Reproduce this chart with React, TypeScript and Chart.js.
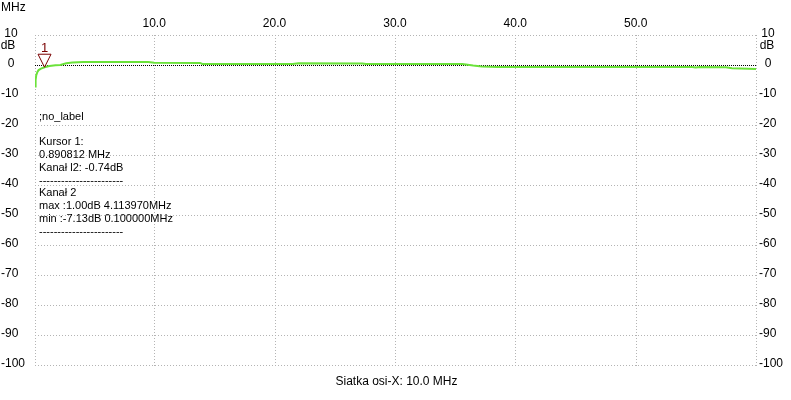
import React, { useEffect, useRef } from "react";
import { Chart, registerables } from "chart.js";

Chart.register(...registerables);

// ---- data ----
const freqMHz: number[] = [
  0.1, 0.15, 0.2, 0.3, 0.4, 0.6, 0.890812, 1.3, 1.8, 2.2, 2.7, 3.2, 4.11397, 6, 8, 9.5,
  10, 13.8, 14, 21.5, 22, 27.3, 27.6, 34.6, 35.6, 36.5, 37.2, 38.5, 54.7, 55, 55.3, 57.5,
  58, 60,
];
const gainDb: number[] = [
  -7.13, -5.0, -3.5, -2.3, -1.7, -1.2, -0.74, -0.35, -0.1, 0.0, 0.6, 0.85, 1.0, 0.98, 1.0, 0.98,
  0.75, 0.7, 0.35, 0.35, 0.55, 0.5, 0.3, 0.3, 0.3, -0.2, -0.5, -0.65, -0.65, -0.8, -0.65, -0.75,
  -1.1, -1.35,
];
const xGridTicks: number[] = [10, 20, 30, 40, 50];
const xTickLabels: string[] = ["10.0", "20.0", "30.0", "40.0", "50.0"];
const yTicks: number[] = [10, 0, -10, -20, -30, -40, -50, -60, -70, -80, -90, -100];
const cursorFreq = 0.890812;
const cursorDb = -0.74;
const cursorLabel = "1";
const infoLines: string[] = [
  ";no_label",
  "",
  "Kursor 1:",
  "0.890812 MHz",
  "Kanał l2: -0.74dB",
  "-----------------------",
  "Kanał 2",
  "max :1.00dB 4.113970MHz",
  "min :-7.13dB 0.100000MHz",
  "-----------------------",
];
const xUnit = "MHz";
const yUnit = "dB";
const bottomTitle = "Siatka osi-X: 10.0 MHz";
const xMin = 0.1;
const xMax = 60;
const yMin = -100;
const yMax = 10;

const FONT = "'Liberation Sans', Arial, sans-serif";

const overlayPlugin = {
  id: "overlay",
  beforeDatasetsDraw(chart: any) {
    const { ctx, chartArea, scales } = chart;
    const xs = scales.x;
    const ys = scales.y;
    ctx.save();
    ctx.lineWidth = 1;
    // vertical grid lines (incl. edges)
    ctx.strokeStyle = "#b4b4b4";
    ctx.setLineDash([1, 2]);
    const vx = [xMin, ...xGridTicks, xMax];
    for (const v of vx) {
      const px = Math.round(xs.getPixelForValue(v)) + 0.5;
      ctx.beginPath();
      ctx.moveTo(px, chartArea.top);
      ctx.lineTo(px, chartArea.bottom + 1);
      ctx.stroke();
    }
    for (const v of yTicks) {
      if (v === 0) continue;
      const py = Math.round(ys.getPixelForValue(v)) + 0.5;
      ctx.beginPath();
      ctx.moveTo(chartArea.left, py);
      ctx.lineTo(chartArea.right + 1, py);
      ctx.stroke();
    }
    // zero reference line
    ctx.strokeStyle = "#000000";
    ctx.setLineDash([1, 1]);
    const pz = Math.round(ys.getPixelForValue(0)) + 0.5;
    ctx.beginPath();
    ctx.moveTo(chartArea.left, pz);
    ctx.lineTo(chartArea.right + 1, pz);
    ctx.stroke();
    ctx.setLineDash([]);

    // axis labels
    ctx.fillStyle = "#000000";
    ctx.font = "12px " + FONT;
    ctx.textBaseline = "middle";
    for (const v of yTicks) {
      const py = ys.getPixelForValue(v) - 1.5;
      const s = String(v);
      if (v < 0) {
        ctx.textAlign = "left";
        ctx.fillText(s, 1, py);
        ctx.fillText(s, chartArea.right + 3, py);
      } else {
        ctx.textAlign = "center";
        ctx.fillText(s, 11, py);
        ctx.fillText(s, chartArea.right + 12, py);
      }
      if (v === yMax) {
        ctx.textAlign = "center";
        ctx.fillText(yUnit, 8, py + 12);
        ctx.fillText(yUnit, chartArea.right + 11, py + 12);
      }
    }
    ctx.textAlign = "center";
    xGridTicks.forEach((v, i) => {
      ctx.fillText(xTickLabels[i], xs.getPixelForValue(v), chartArea.top - 11);
    });
    ctx.textAlign = "left";
    ctx.fillText(xUnit, 1, 8);
    ctx.textAlign = "center";
    ctx.fillText(bottomTitle, (chartArea.left + chartArea.right) / 2 + 1, chartArea.bottom + 17);

    // info text
    ctx.font = "11px " + FONT;
    ctx.textAlign = "left";
    infoLines.forEach((t, i) => {
      if (t) ctx.fillText(t, chartArea.left + 4, ys.getPixelForValue(-17.3) + i * 12.75);
    });
    ctx.restore();
  },
  afterDatasetsDraw(chart: any) {
    const { ctx, scales } = chart;
    const tx = scales.x.getPixelForValue(cursorFreq);
    const ty = scales.y.getPixelForValue(cursorDb);
    ctx.save();
    ctx.strokeStyle = "#7a0000";
    ctx.lineWidth = 1;
    ctx.beginPath();
    ctx.moveTo(tx - 6.5, ty - 13);
    ctx.lineTo(tx + 6.5, ty - 13);
    ctx.lineTo(tx, ty);
    ctx.closePath();
    ctx.stroke();
    ctx.fillStyle = "#7a0000";
    ctx.font = "13px " + FONT;
    ctx.textAlign = "center";
    ctx.textBaseline = "middle";
    ctx.fillText(cursorLabel, tx, ty - 19);
    ctx.restore();
  },
};

export default function App() {
  const ref = useRef<HTMLCanvasElement | null>(null);
  useEffect(() => {
    if (!ref.current) return;
    const chart = new Chart(ref.current, {
      type: "line",
      data: {
        datasets: [
          {
            data: freqMHz.map((f, i) => ({ x: f, y: gainDb[i] })),
            borderColor: "#6be23a",
            borderWidth: 2,
            pointRadius: 0,
            tension: 0,
            fill: false,
          },
        ],
      },
      options: {
        animation: false,
        responsive: false,
        maintainAspectRatio: false,
        layout: { padding: { left: 35, right: 35, top: 35, bottom: 35 } },
        plugins: { legend: { display: false }, tooltip: { enabled: false } },
        scales: {
          x: { type: "linear", min: xMin, max: xMax, display: false },
          y: { type: "linear", min: yMin, max: yMax, display: false },
        },
      },
      plugins: [overlayPlugin],
    });
    return () => chart.destroy();
  }, []);
  return (
    <div style={{ position: "fixed", left: 0, top: 0, width: 791, height: 400, background: "#fff" }}>
      <canvas ref={ref} width={791} height={400} style={{ width: 791, height: 400 }} />
    </div>
  );
}
